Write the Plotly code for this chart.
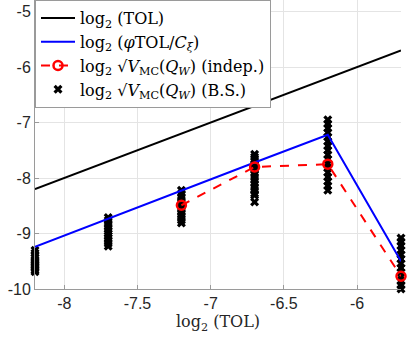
import plotly.graph_objects as go

# log2(TOL) levels
tol_log2 = [-8.2, -7.7, -7.2, -6.7, -6.2, -5.7]
# reference line log2(TOL)
line_tol = [-8.2, -7.7, -7.2, -6.7, -6.2, -5.7]
# log2(phi TOL / C_xi)
line_phi = [-9.24, -8.73, -8.22, -7.72, -7.22, -9.5]
# independent MC estimates
indep_x = [-7.2, -6.7, -6.2, -5.7]
indep_y = [-8.49, -7.80, -7.75, -9.77]
# bootstrap samples per TOL level
bs_samples = {
    -8.2: [-9.30, -9.35, -9.40, -9.44, -9.48, -9.51, -9.54, -9.57, -9.60, -9.63, -9.66, -9.69],
    -7.7: [-8.71, -8.76, -8.82, -8.87, -8.92, -8.96, -9.00, -9.04, -9.08, -9.13, -9.18, -9.23],
    -7.2: [-8.22, -8.28, -8.34, -8.40, -8.45, -8.50, -8.55, -8.60, -8.65, -8.70, -8.76, -8.81],
    -6.7: [-7.57, -7.62, -7.68, -7.74, -7.80, -7.86, -7.92, -7.98, -8.04, -8.10, -8.16, -8.22,
           -8.28, -8.31, -8.43],
    -6.2: [-6.95, -7.02, -7.10, -7.18, -7.26, -7.34, -7.42, -7.50, -7.58, -7.66, -7.74, -7.82,
           -7.90, -7.98, -8.06, -8.14, -8.22],
    -5.7: [-9.08, -9.15, -9.22, -9.30, -9.38, -9.46, -9.54, -9.62, -9.70, -9.78, -9.86, -9.93, -10.0],
}

bs_x, bs_y = [], []
for k, vals in bs_samples.items():
    bs_x += [k] * len(vals)
    bs_y += vals

SERIF = "DejaVu Serif, Liberation Serif, serif"
SANS = "Liberation Sans, Arial, sans-serif"

fig = go.Figure()
fig.add_trace(go.Scatter(
    x=bs_x, y=bs_y, mode="markers", legendrank=4, cliponaxis=False,
    name="log<sub>2</sub> √<i>V</i><sub>MC</sub>(<i>Q<sub>W</sub></i>) (B.S.)",
    marker=dict(symbol="x", size=8, color="black"),
))
fig.add_trace(go.Scatter(
    x=tol_log2, y=line_tol, mode="lines", legendrank=1,
    name="log<sub>2</sub> (TOL)", line=dict(color="black", width=2),
))
fig.add_trace(go.Scatter(
    x=tol_log2, y=line_phi, mode="lines", legendrank=2,
    name="log<sub>2</sub> (<i>φ</i>TOL/<i>C<sub>ξ</sub></i>)", line=dict(color="#0000ff", width=2),
))
fig.add_trace(go.Scatter(
    x=indep_x, y=indep_y, mode="lines+markers", legendrank=3, cliponaxis=False,
    name="log<sub>2</sub> √<i>V</i><sub>MC</sub>(<i>Q<sub>W</sub></i>) (indep.)",
    line=dict(color="#ff0000", width=2, dash="dash"),
    marker=dict(symbol="circle-open", size=9, color="#ff0000", line=dict(width=2.5)),
))

axis_common = dict(
    showgrid=True, gridcolor="#e4e4e4", gridwidth=1,
    showline=True, linecolor="#9a9a9a", linewidth=1,
    ticks="inside", ticklen=4, tickcolor="#9a9a9a",
    tickfont=dict(family=SANS, size=16, color="#262626"),
    zeroline=False, automargin=False,
)
fig.update_xaxes(
    range=[-8.2, -5.7], tickvals=[-8, -7.5, -7, -6.5, -6],
    ticktext=["-8", "-7.5", "-7", "-6.5", "-6"],
    title=dict(text="log<sub>2</sub> (TOL)", font=dict(family=SERIF, size=16, color="#262626"), standoff=4),
    **axis_common,
)
fig.update_yaxes(
    range=[-10, -4.79], tickvals=[-10, -9, -8, -7, -6, -5],
    ticktext=["-10", "-9", "-8", "-7", "-6", "-5"],
    **axis_common,
)
fig.update_layout(
    width=407, height=339,
    margin=dict(l=35, r=6, t=0, b=50, autoexpand=False),
    plot_bgcolor="white", paper_bgcolor="white",
    legend=dict(
        x=0, y=1, xanchor="left", yanchor="top",
        bgcolor="white", bordercolor="#9a9a9a", borderwidth=1,
        font=dict(family=SERIF, size=16, color="black"),
        itemwidth=34, tracegroupgap=0,
    ),
)

# drop the default page margin so the figure sits at the window's corner
fig.write_html("out.html", config={"displayModeBar": False},
               post_script="document.body.style.margin='0px';")
